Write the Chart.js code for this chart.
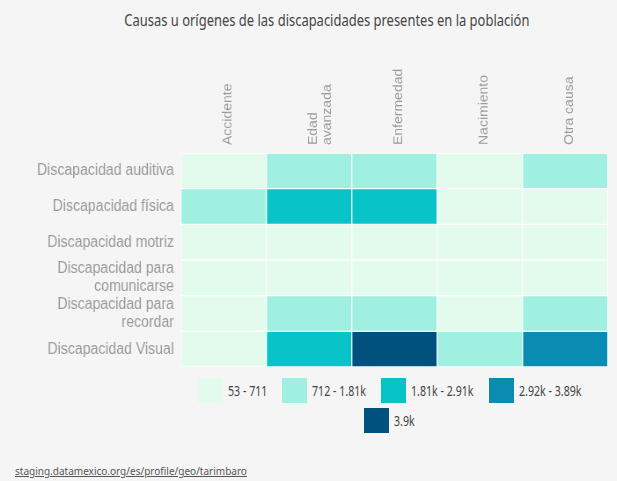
<!DOCTYPE html>
<html>
<head>
<meta charset="utf-8">
<script src="https://cdn.jsdelivr.net/npm/chart.js@4.4.1/dist/chart.umd.min.js"></script>
<style>
  html, body { margin: 0; padding: 0; background: #f5f5f5; }
  body { width: 617px; height: 481px; position: relative; overflow: hidden; font-family: "Noto Sans", sans-serif; }
  #title { position: absolute; left: 0; width: 617px; top: 8px; text-align: center; }
  #title span { display: inline-block; font-size: 17px; color: #444; transform: scaleX(0.762); margin-left: 36px; white-space: nowrap; }
  /* the reference picture is horizontally condensed; the chart is drawn wider and condensed the same way */
  #wrap { position: absolute; left: 0; top: 0; width: 701px; height: 371px; transform: scaleX(0.88); transform-origin: 0 0; }
  #legend { position: absolute; left: 176px; width: 427px; top: 378px; display: flex; flex-direction: column; row-gap: 5px; }
  .lrow { display: flex; justify-content: center; column-gap: 15px; }
  .item { display: flex; align-items: center; height: 25px; font-size: 14px; color: #444; }
  .sw { width: 25px; height: 25px; margin-right: 5px; }
  .tx { display: inline-block; transform: scaleX(0.76); transform-origin: left center; white-space: nowrap; }
  #source { position: absolute; left: 15px; top: 463px; font-size: 11px; color: #555; text-decoration: underline; transform: scaleX(0.91); transform-origin: left center; white-space: nowrap; }
</style>
</head>
<body>
<div id="title"><span>Causas u orígenes de las discapacidades presentes en la población</span></div>
<div id="wrap"><canvas id="c"></canvas></div>
<div id="legend"></div>
<div id="source">staging.datamexico.org/es/profile/geo/tarimbaro</div>
<script>
// Columns (causes) and rows (disability types)
const columns = ["Accidente", ["Edad", "avanzada"], "Enfermedad", "Nacimiento", "Otra causa"];
const rows = ["Discapacidad auditiva", "Discapacidad física", "Discapacidad motriz",
              ["Discapacidad para", "comunicarse"], ["Discapacidad para", "recordar"], "Discapacidad Visual"];

// Values per cause, in row order
const accidente    = [420, 980, 140, 53, 150, 530];
const edadAvanzada = [1250, 2350, 210, 90, 1050, 2620];
const enfermedad   = [1080, 2180, 180, 110, 1320, 3900];
const nacimiento   = [310, 390, 95, 260, 280, 1410];
const otraCausa    = [860, 560, 120, 75, 780, 3350];
const seriesValues = [accidente, edadAvanzada, enfermedad, nacimiento, otraCausa];

// Colour bins
const binMax    = [711, 1810, 2910, 3890, Infinity];
const binLabels = ["53 - 711", "712 - 1.81k", "1.81k - 2.91k", "2.92k - 3.89k", "3.9k"];
const binColors = ["#e3fbed", "#9ff0e0", "#08c4c8", "#0a8cb2", "#00517d"];
const legendRows = [[0, 1, 2, 3], [4]];

function colorFor(v) {
  for (let i = 0; i < binMax.length; i++) if (v <= binMax[i]) return binColors[i];
  return binColors[binColors.length - 1];
}

const datasets = seriesValues.map((vals, c) => ({
  label: Array.isArray(columns[c]) ? columns[c].join(" ") : columns[c],
  data: vals.map(() => [c - 0.5, c + 0.5]),
  backgroundColor: ctx => colorFor(seriesValues[ctx.datasetIndex][ctx.dataIndex]),
  borderColor: "#ffffff",
  borderWidth: 1,
  borderSkipped: false,
  grouped: false,
  barPercentage: 1,
  categoryPercentage: 1
}));

const labelFont = "'Liberation Sans', Arial, sans-serif";

new Chart(document.getElementById("c"), {
  type: "bar",
  data: { labels: rows, datasets },
  options: {
    indexAxis: "y",
    responsive: true,
    maintainAspectRatio: false,
    animation: false,
    layout: { padding: { top: 0, right: 10.2, bottom: 4, left: 0 } },
    plugins: { legend: { display: false }, tooltip: { enabled: false }, title: { display: false } },
    scales: {
      x: {
        type: "linear",
        position: "top",
        min: -0.5,
        max: 4.5,
        // multi-line labels are nudged so that their block is centred like the single-line ones
        afterBuildTicks: s => {
          s.ticks = columns.map((c, i) => ({ value: i + (Array.isArray(c) ? 0.17 * (c.length - 1) : 0) }));
        },
        afterFit: s => { s.height = 153; s.paddingLeft = 0; s.paddingRight = 0; },
        grid: { display: false, drawTicks: false },
        border: { display: false },
        ticks: {
          callback: (v, i) => columns[i],
          minRotation: 90,
          maxRotation: 90,
          autoSkip: false,
          padding: 8,
          labelOffset: 20.5,
          color: "#999",
          font: { family: labelFont, size: 14, lineHeight: 1.14 }
        }
      },
      y: {
        type: "category",
        afterFit: s => { s.width = 205.7; s.paddingTop = 0; s.paddingBottom = 0; },
        grid: { display: false, drawTicks: false },
        border: { display: false },
        ticks: {
          autoSkip: false,
          padding: 8,
          color: "#999",
          font: { family: labelFont, size: 16, lineHeight: 1.1 }
        }
      }
    }
  }
});

// HTML legend from the bins
const legend = document.getElementById("legend");
legendRows.forEach(r => {
  const row = document.createElement("div");
  row.className = "lrow";
  r.forEach(i => {
    const it = document.createElement("div");
    it.className = "item";
    const sw = document.createElement("div");
    sw.className = "sw";
    sw.style.background = binColors[i];
    const tx = document.createElement("span");
    tx.className = "tx";
    tx.textContent = binLabels[i];
    it.appendChild(sw); it.appendChild(tx);
    row.appendChild(it);
  });
  legend.appendChild(row);
});
// compensate layout width for the horizontally condensed text
document.querySelectorAll(".tx").forEach(t => {
  const w = t.getBoundingClientRect().width / 0.76;
  t.style.marginRight = (-(w * 0.24)) + "px";
});
</script>
</body>
</html>
